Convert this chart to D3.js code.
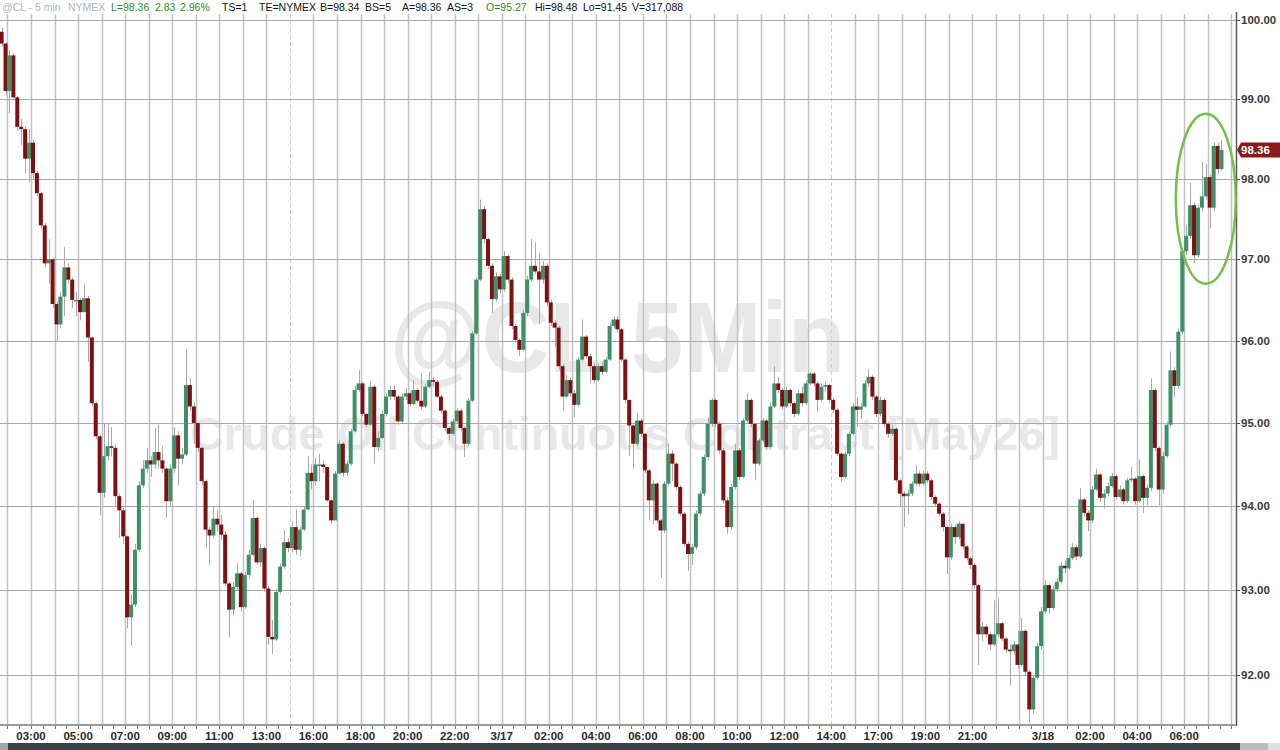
<!DOCTYPE html>
<html>
<head>
<meta charset="utf-8">
<script src="https://cdn.jsdelivr.net/npm/d3@7"></script>
<style>
  body { margin: 0; background: #fff; overflow: hidden; }
  text { font-family: "Liberation Sans", Arial, sans-serif; }
</style>
</head>
<body>
<script>
// 10-minute bars (open = previous close)
const firstOpen = 99.85;
const closes = [
  99.70, 99.10, 99.55, 99.02, 98.65, 98.62, 98.25, 98.45, 98.07, 97.82,
  97.42, 96.95, 97.00, 96.45, 96.20, 96.54, 96.90, 96.75, 96.50, 96.50,
  96.35, 96.52, 96.04, 95.24, 94.84, 94.16, 94.60, 94.72, 94.70, 94.12,
  93.95, 93.64, 92.68, 92.83, 93.48, 94.25, 94.45, 94.55, 94.50, 94.65,
  94.55, 94.45, 94.06, 94.45, 94.85, 94.57, 94.62, 95.46, 95.20, 95.00,
  94.70, 94.30, 93.72, 93.65, 93.85, 93.78, 93.66, 93.08, 92.77, 93.04,
  93.20, 92.80, 93.18, 93.42, 93.86, 93.33, 93.50, 93.02, 92.45, 92.42,
  92.98, 93.28, 93.57, 93.50, 93.75, 93.48, 93.72, 93.96, 94.40, 94.30,
  94.50, 94.50, 94.47, 94.07, 93.83, 94.39, 94.75, 94.40, 94.51, 94.90,
  95.40, 95.48, 95.11, 94.98, 95.44, 94.71, 94.82, 95.11, 95.32, 95.40,
  95.32, 95.02, 95.32, 95.36, 95.23, 95.40, 95.27, 95.20, 95.44, 95.52,
  95.50, 95.32, 95.15, 94.94, 94.87, 95.02, 95.15, 94.94, 94.75, 95.27,
  96.09, 96.75, 97.62, 97.25, 96.92, 96.51, 96.79, 96.63, 97.04, 96.75,
  96.18, 96.01, 95.89, 96.34, 96.75, 96.92, 96.85, 96.75, 96.92, 96.47,
  96.22, 96.16, 95.69, 95.32, 95.52, 95.36, 95.22, 95.77, 96.05, 95.81,
  95.69, 95.52, 95.69, 95.62, 95.77, 96.18, 96.26, 96.14, 95.77, 95.28,
  94.97, 94.75, 95.03, 94.87, 94.43, 94.07, 94.27, 93.83, 93.71, 94.27,
  94.63, 94.51, 94.23, 93.91, 93.55, 93.43, 93.51, 93.91, 94.15, 94.59,
  94.99, 95.28, 94.99, 94.67, 94.07, 93.75, 94.23, 94.67, 94.35, 95.03,
  95.28, 94.99, 94.51, 94.79, 95.03, 94.71, 95.20, 95.48, 95.40, 95.20,
  95.40, 95.24, 95.11, 95.36, 95.24, 95.48, 95.60, 95.48, 95.28, 95.44,
  95.46, 95.28, 95.16, 94.63, 94.35, 94.63, 94.87, 95.20, 95.16, 95.20,
  95.48, 95.56, 95.32, 95.11, 95.28, 94.99, 94.87, 94.93, 94.31, 94.15,
  94.12, 94.15, 94.27, 94.39, 94.27, 94.39, 94.31, 94.11, 94.03, 93.91,
  93.75, 93.39, 93.75, 93.63, 93.79, 93.52, 93.38, 93.30, 93.06, 92.48,
  92.57, 92.48, 92.36, 92.48, 92.61, 92.43, 92.30, 92.28, 92.36, 92.12,
  92.52, 92.04, 91.60, 91.97, 92.34, 92.75, 93.06, 92.79, 93.01, 93.10,
  93.29, 93.26, 93.38, 93.51, 93.40, 94.08, 93.92, 93.83, 94.20, 94.38,
  94.10, 94.15, 94.24, 94.36, 94.11, 94.20, 94.06, 94.31, 94.33, 94.06,
  94.36, 94.10, 94.22, 95.40, 94.70, 94.20, 94.60, 94.98, 95.64, 95.45,
  96.11, 97.10, 97.29, 97.67, 97.05, 97.64, 97.78, 98.02, 97.64, 98.41,
  98.12, 98.36
];
const highs = [
  99.90, 99.72, 99.62, 99.58, 99.04, 98.75, 98.66, 98.62, 98.48, 98.10,
  97.84, 97.45, 97.25, 97.02, 96.48, 96.60, 97.15, 96.95, 96.78, 96.60,
  96.52, 96.70, 96.55, 96.05, 95.26, 94.86, 94.99, 94.99, 94.95, 94.75,
  94.15, 93.98, 93.65, 92.95, 93.55, 94.30, 94.55, 94.70, 94.60, 94.94,
  94.98, 94.72, 94.46, 94.50, 94.95, 94.90, 94.70, 95.89, 95.55, 95.25,
  95.00, 94.72, 94.32, 93.75, 94.00, 93.95, 93.90, 93.70, 93.10, 93.10,
  93.32, 93.22, 93.22, 93.48, 94.08, 93.88, 93.55, 93.52, 93.05, 92.65,
  93.02, 93.32, 93.72, 93.62, 93.82, 93.96, 93.75, 94.00, 94.60, 94.50,
  94.58, 94.63, 94.55, 94.45, 94.08, 94.42, 94.80, 94.77, 94.55, 94.93,
  95.45, 95.64, 95.50, 95.12, 95.50, 95.46, 94.90, 95.15, 95.36, 95.45,
  95.46, 95.34, 95.36, 95.42, 95.38, 95.52, 95.42, 95.60, 95.48, 95.62,
  95.56, 95.52, 95.34, 95.17, 94.96, 95.05, 95.18, 95.17, 94.96, 95.30,
  96.12, 96.78, 97.74, 97.66, 97.27, 96.95, 96.84, 96.82, 97.10, 97.06,
  96.78, 96.20, 96.03, 96.38, 96.80, 97.25, 97.21, 97.08, 96.98, 96.95,
  96.50, 96.25, 96.18, 95.72, 95.58, 95.55, 95.40, 95.80, 96.26, 96.07,
  95.84, 95.72, 95.72, 95.74, 95.80, 96.22, 96.30, 96.30, 96.16, 95.79,
  95.28, 94.98, 95.12, 95.06, 94.88, 94.45, 94.31, 94.29, 93.85, 94.30,
  94.75, 94.67, 94.53, 94.25, 93.93, 93.58, 93.55, 93.95, 94.18, 94.62,
  95.07, 95.30, 95.30, 95.02, 94.70, 94.10, 94.27, 94.75, 94.70, 95.06,
  95.36, 95.30, 95.00, 94.82, 95.06, 95.05, 95.25, 95.69, 95.56, 95.42,
  95.44, 95.42, 95.26, 95.40, 95.44, 95.52, 95.62, 95.62, 95.50, 95.48,
  95.50, 95.48, 95.30, 95.18, 94.65, 94.66, 94.90, 95.24, 95.31, 95.24,
  95.52, 95.65, 95.58, 95.34, 95.32, 95.30, 95.02, 94.98, 94.95, 94.33,
  94.18, 94.20, 94.30, 94.49, 94.42, 94.43, 94.42, 94.33, 94.13, 94.05,
  93.93, 93.77, 93.79, 93.78, 93.82, 93.60, 93.53, 93.40, 93.32, 93.08,
  92.62, 92.60, 92.50, 92.88, 92.90, 92.63, 92.45, 92.36, 92.40, 92.52,
  92.67, 92.54, 92.06, 92.00, 92.38, 92.80, 93.12, 93.08, 93.05, 93.14,
  93.33, 93.35, 93.42, 93.56, 93.54, 94.22, 94.10, 93.95, 94.24, 94.45,
  94.40, 94.20, 94.28, 94.40, 94.38, 94.25, 94.22, 94.34, 94.47, 94.35,
  94.56, 94.38, 94.26, 95.54, 95.42, 94.72, 94.65, 95.02, 95.87, 95.68,
  96.15, 97.14, 97.43, 97.95, 97.70, 97.68, 98.21, 98.19, 98.05, 98.46,
  98.45, 98.48
];
const lows = [
  99.66, 99.05, 98.82, 98.98, 98.60, 98.42, 98.07, 97.95, 98.00, 97.78,
  97.38, 96.90, 96.70, 96.40, 95.99, 96.15, 96.30, 96.70, 96.40, 96.30,
  96.25, 96.35, 95.74, 95.20, 94.80, 93.89, 94.10, 94.55, 94.60, 94.00,
  93.62, 93.55, 92.55, 92.34, 92.80, 93.45, 94.22, 94.40, 94.35, 94.45,
  94.45, 94.40, 93.86, 94.00, 94.40, 94.25, 94.50, 94.60, 95.15, 94.75,
  94.65, 94.25, 93.50, 93.30, 93.62, 93.70, 93.60, 93.05, 92.45, 92.70,
  93.00, 92.75, 92.78, 93.15, 93.40, 93.30, 93.28, 92.98, 92.36, 92.25,
  92.40, 92.95, 93.25, 93.45, 93.45, 93.42, 93.40, 93.70, 93.95, 94.20,
  94.25, 94.30, 94.40, 94.05, 93.79, 93.88, 94.38, 94.35, 94.36, 94.48,
  94.88, 95.38, 95.08, 94.95, 94.96, 94.51, 94.66, 94.80, 95.08, 95.28,
  95.28, 94.98, 95.00, 95.28, 95.20, 95.22, 95.24, 95.16, 95.18, 95.42,
  95.45, 95.30, 95.12, 94.90, 94.79, 94.85, 95.00, 94.90, 94.59, 94.72,
  95.25, 96.07, 96.73, 97.20, 96.88, 96.34, 96.48, 96.58, 96.60, 96.70,
  96.14, 95.98, 95.81, 95.87, 96.30, 96.72, 96.82, 96.20, 96.70, 96.42,
  96.18, 95.93, 95.65, 95.15, 95.30, 95.32, 95.07, 95.20, 95.75, 95.78,
  95.48, 95.48, 95.50, 95.58, 95.60, 95.75, 96.15, 96.10, 95.74, 95.24,
  94.60, 94.45, 94.72, 94.83, 94.40, 93.83, 93.79, 93.80, 93.15, 93.68,
  94.25, 94.30, 94.20, 93.88, 93.52, 93.23, 93.30, 93.48, 93.88, 94.12,
  94.55, 94.96, 94.95, 94.63, 94.03, 93.67, 93.72, 94.20, 94.31, 94.33,
  95.00, 94.95, 94.31, 94.48, 94.76, 94.68, 94.69, 95.18, 95.36, 95.16,
  95.18, 95.20, 95.07, 95.09, 95.20, 95.22, 95.46, 95.44, 95.14, 95.26,
  95.38, 95.24, 95.12, 94.60, 94.29, 94.33, 94.60, 94.85, 94.95, 95.05,
  95.18, 95.44, 95.28, 95.07, 95.08, 94.95, 94.82, 94.84, 94.28, 93.99,
  93.75, 93.90, 94.12, 94.25, 94.24, 94.25, 94.28, 94.08, 94.00, 93.88,
  93.70, 93.19, 93.36, 93.55, 93.60, 93.48, 93.35, 93.25, 93.02, 92.12,
  92.40, 92.44, 92.30, 92.34, 92.45, 92.40, 92.26, 91.88, 92.24, 92.08,
  92.10, 92.00, 91.45, 91.55, 91.95, 92.30, 92.72, 92.72, 92.76, 92.98,
  93.08, 93.20, 93.24, 93.36, 93.36, 93.38, 93.88, 93.70, 93.80, 94.18,
  94.05, 93.97, 94.12, 94.22, 94.08, 94.08, 94.02, 94.04, 94.28, 94.02,
  94.04, 93.92, 94.01, 94.18, 94.66, 94.01, 94.15, 94.58, 94.95, 95.31,
  95.42, 96.08, 97.05, 97.25, 96.95, 97.02, 97.60, 97.74, 97.38, 97.60,
  98.06, 98.10
];

const priceTicks = [100, 99, 98, 97, 96, 95, 94, 93, 92];
const timeLabels = ["03:00", "05:00", "07:00", "09:00", "11:00", "13:00", "16:00", "18:00",
  "20:00", "22:00", "3/17", "02:00", "04:00", "06:00", "08:00", "10:00", "12:00", "14:00",
  "17:00", "19:00", "21:00", "3/18", "02:00", "04:00", "06:00"];
const labelBars = [7.5, 19.5, 31.5, 43.5, 55.5, 67.5, 79.5, 91.5, 103.5, 115.5, 127.5, 139.5,
  151.5, 163.5, 175.5, 187.5, 199.5, 211.5, 223.5, 235.5, 247.5, 265.5, 277.5, 289.5, 301.5];
const sessionBreaks = [73.5, 211.5];
const lastPrice = 98.36;

const header = [
  { t: "@CL - 5 min", c: "#b4b4b4" }, { t: "NYMEX", c: "#b4b4b4" },
  { t: "L=98.36", c: "#2f8a2f" }, { t: "2.83", c: "#2f8a2f" }, { t: "2.96%", c: "#2f8a2f" },
  { t: "TS=1", c: "#111" }, { t: "TE=NYMEX", c: "#111" }, { t: "B=98.34", c: "#111" },
  { t: "BS=5", c: "#111" }, { t: "A=98.36", c: "#111" }, { t: "AS=3", c: "#111" },
  { t: "O=95.27", c: "#2f8a2f" }, { t: "Hi=98.48", c: "#111" }, { t: "Lo=91.45", c: "#111" },
  { t: "V=317,088", c: "#111" }
];
const headerX = [2, 68, 111, 155, 180, 222, 259, 320, 365, 402, 447, 486, 535, 583, 632];

const W = 1280, H = 750;
const plot = { left: 0, right: 1236, top: 14, bottom: 724 };

const svg = d3.select("body").append("svg")
  .attr("width", W).attr("height", H);

const x = d3.scaleLinear().domain([0, 314.7]).range([1.6, plot.right]);
const y = d3.scaleLog().domain([91.43, 100.076]).range([plot.bottom, plot.top]);

const bars = closes.map((c, i) => ({
  i: i,
  o: i === 0 ? firstOpen : closes[i - 1],
  c: c, h: highs[i], l: lows[i]
}));

// watermark
svg.append("text")
  .attr("x", 390).attr("y", 372)
  .attr("textLength", 455).attr("lengthAdjust", "spacingAndGlyphs")
  .attr("font-size", 100).attr("font-weight", "bold")
  .attr("fill", "#e8e8e8")
  .text("@CL 5Min");
svg.append("text")
  .attr("x", 190).attr("y", 450)
  .attr("textLength", 870).attr("lengthAdjust", "spacingAndGlyphs")
  .attr("font-size", 46).attr("font-weight", "bold")
  .attr("fill", "#e8e8e8")
  .text("Crude Oil Continuous Contract [May26]");

// grid
const hourBars = d3.range(1.5, 315, 6).filter(b => !sessionBreaks.includes(b));
svg.append("g").selectAll("line")
  .data(hourBars)
  .enter().append("line")
  .attr("x1", d => Math.round(x(d)) + 0.5).attr("x2", d => Math.round(x(d)) + 0.5)
  .attr("y1", plot.top).attr("y2", plot.bottom)
  .attr("stroke", "#c2c2c2").attr("stroke-width", 1.5);

svg.append("g").selectAll("line")
  .data(sessionBreaks)
  .enter().append("line")
  .attr("x1", d => Math.round(x(d)) + 0.5).attr("x2", d => Math.round(x(d)) + 0.5)
  .attr("y1", plot.top).attr("y2", plot.bottom)
  .attr("stroke", "#cfcfcf").attr("stroke-width", 1)
  .attr("stroke-dasharray", "4,3");

svg.append("g").selectAll("line")
  .data(priceTicks)
  .enter().append("line")
  .attr("x1", plot.left).attr("x2", plot.right)
  .attr("y1", d => Math.round(y(d)) + 0.5).attr("y2", d => Math.round(y(d)) + 0.5)
  .attr("stroke", "#a8a8a8").attr("stroke-width", 1.2);

// candles
const candles = svg.append("g");
candles.selectAll("line")
  .data(bars)
  .enter().append("line")
  .attr("x1", d => Math.round(x(d.i)) + 0.5).attr("x2", d => Math.round(x(d.i)) + 0.5)
  .attr("y1", d => y(d.h)).attr("y2", d => y(d.l))
  .attr("stroke", "#a9a9a9").attr("stroke-width", 1);

candles.selectAll("rect")
  .data(bars)
  .enter().append("rect")
  .attr("x", d => x(d.i) - 2)
  .attr("width", 4)
  .attr("y", d => y(Math.max(d.o, d.c)))
  .attr("height", d => Math.max(1.5, y(Math.min(d.o, d.c)) - y(Math.max(d.o, d.c))))
  .attr("fill", d => d.c >= d.o ? "#3f8f68" : "#7c1013");

// right axis
svg.append("line")
  .attr("x1", plot.right + 0.5).attr("x2", plot.right + 0.5)
  .attr("y1", 12).attr("y2", plot.bottom + 2)
  .attr("stroke", "#5a5a5a").attr("stroke-width", 1.5);

const yAxis = svg.append("g");
yAxis.selectAll("line")
  .data(priceTicks)
  .enter().append("line")
  .attr("x1", plot.right).attr("x2", plot.right + 4)
  .attr("y1", d => Math.round(y(d)) + 0.5).attr("y2", d => Math.round(y(d)) + 0.5)
  .attr("stroke", "#555");
yAxis.selectAll("text")
  .data(priceTicks)
  .enter().append("text")
  .attr("x", plot.right + 5)
  .attr("y", d => y(d) + 4)
  .attr("font-size", 11.5).attr("font-weight", "bold")
  .attr("fill", "#3a3a3a")
  .text(d => d3.format(".2f")(d));

// last price tag
const tagY = y(lastPrice);
svg.append("path")
  .attr("d", `M${plot.right + 1},${tagY} L${plot.right + 5},${tagY - 7.5} L1280,${tagY - 7.5} L1280,${tagY + 7.5} L${plot.right + 5},${tagY + 7.5} Z`)
  .attr("fill", "#8a1a1a");
svg.append("text")
  .attr("x", plot.right + 5).attr("y", tagY + 4)
  .attr("font-size", 11.5).attr("font-weight", "bold")
  .attr("fill", "#fff")
  .text(d3.format(".2f")(lastPrice));

// bottom axis
svg.append("line")
  .attr("x1", 0).attr("x2", plot.right)
  .attr("y1", plot.bottom + 1).attr("y2", plot.bottom + 1)
  .attr("stroke", "#9a9a9a").attr("stroke-width", 2);

const xAxis = svg.append("g");
xAxis.selectAll("line")
  .data(d3.range(1.5, 315, 3))
  .enter().append("line")
  .attr("x1", d => Math.round(x(d)) + 0.5).attr("x2", d => Math.round(x(d)) + 0.5)
  .attr("y1", plot.bottom + 2).attr("y2", plot.bottom + 5)
  .attr("stroke", "#777");
xAxis.selectAll("text")
  .data(timeLabels)
  .enter().append("text")
  .attr("x", (d, i) => x(labelBars[i]))
  .attr("y", 740)
  .attr("text-anchor", "middle")
  .attr("font-size", 11.5).attr("font-weight", "bold")
  .attr("fill", "#2a2a2a")
  .text(d => d);

// footer strip
svg.append("rect").attr("x", 0).attr("y", 743).attr("width", W).attr("height", 7).attr("fill", "#3b4048");
svg.append("rect").attr("x", 0).attr("y", 743).attr("width", 8).attr("height", 7).attr("fill", "#9ea6b2");
svg.append("rect").attr("x", 1240).attr("y", 743).attr("width", 28).attr("height", 7).attr("fill", "#b7bcc5");
svg.append("rect").attr("x", 1268).attr("y", 743).attr("width", 12).attr("height", 7).attr("fill", "#dde0e5");

// highlight ellipse
svg.append("ellipse")
  .attr("cx", x(307)).attr("cy", y(97.75))
  .attr("rx", 30).attr("ry", 85)
  .attr("fill", "none")
  .attr("stroke", "#74be4a").attr("stroke-width", 2.5);

// header line
svg.append("g").selectAll("text")
  .data(header)
  .enter().append("text")
  .attr("x", (d, i) => headerX[i])
  .attr("y", 11)
  .attr("font-size", 10.5)
  .attr("fill", d => d.c)
  .text(d => d.t);
</script>
</body>
</html>
